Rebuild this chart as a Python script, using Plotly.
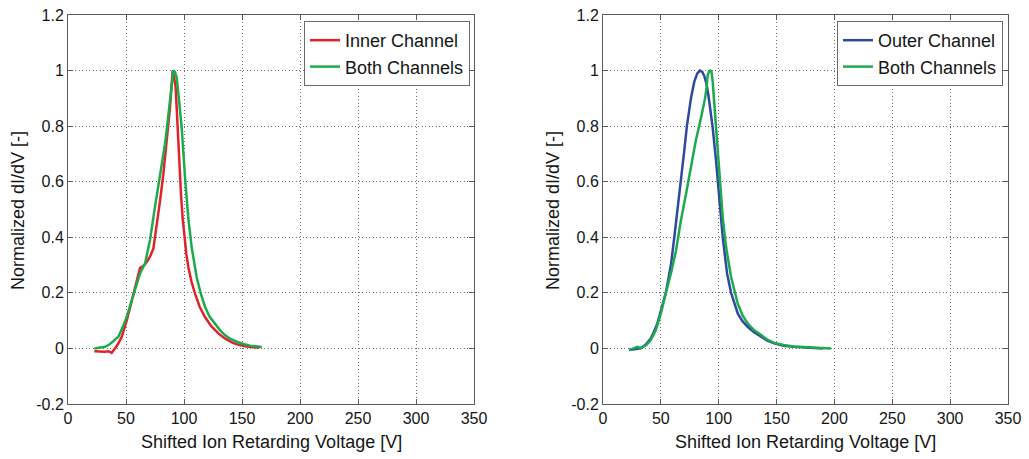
import plotly.graph_objects as go

# ---- Left panel: inner channel vs both channels ----
inner_v = [22.7, 27, 31.9, 35, 37.6, 40.5, 43, 46.3, 50.6, 54.9, 59.2, 62.1, 64, 65.8, 68,
           70.7, 73.6, 76.4, 79.3, 82.2, 85, 87.9, 89.2, 90.2, 91.5, 92.8, 94, 95.1, 96.3,
           97.4, 98.8, 100.3, 102, 103.7, 106.5, 109.5, 113.5, 118.1, 123.5, 129.6, 135.3,
           142, 148, 154, 160, 165]
inner_y = [-0.01, -0.011, -0.012, -0.01, -0.016, 0.0, 0.015, 0.042, 0.10, 0.17, 0.245, 0.29,
           0.295, 0.30, 0.312, 0.33, 0.36, 0.436, 0.53, 0.627, 0.735, 0.866, 0.94, 1.0, 0.975,
           0.94, 0.84, 0.735, 0.64, 0.556, 0.47, 0.40, 0.34, 0.293, 0.24, 0.197, 0.15, 0.113,
           0.08, 0.054, 0.036, 0.02, 0.012, 0.007, 0.004, 0.002]

both_l_v = [22.7, 27, 31.9, 36, 40, 43.4, 47, 50.6, 54, 57.8, 62.1, 66.4, 70.7, 75, 79.3,
            83.6, 86, 87.9, 89.5, 90.8, 92.2, 93.7, 95.8, 98, 100.9, 103.7, 106.6, 110.9,
            114.5, 118.1, 122, 126.7, 131, 135.3, 140, 145, 151, 157, 162, 167]
both_l_y = [0.0, 0.002, 0.006, 0.015, 0.028, 0.042, 0.075, 0.113, 0.16, 0.21, 0.27, 0.305,
            0.39, 0.51, 0.615, 0.735, 0.82, 0.90, 0.96, 1.0, 0.995, 0.975, 0.89, 0.795, 0.615,
            0.47, 0.364, 0.257, 0.197, 0.15, 0.115, 0.09, 0.066, 0.048, 0.034, 0.025, 0.016,
            0.01, 0.007, 0.005]

# ---- Right panel: outer channel vs both channels ----
outer_v = [22.5, 27, 32.7, 37, 41.3, 44, 47, 49, 51.4, 54.3, 56.5, 58.7, 61.6, 64.5, 67.3,
           70.2, 72.5, 74.2, 76, 78.9, 81.5, 83.8, 85.8, 87.6, 89.3, 91, 92.9, 94.8, 97.7,
           100.6, 103.5, 107.2, 110.7, 116.5, 120.5, 125, 130.5, 136.7, 142, 148, 156, 165,
           177, 190]
outer_y = [-0.006, -0.003, 0.0, 0.014, 0.036, 0.06, 0.09, 0.12, 0.16, 0.2, 0.25, 0.30, 0.40,
           0.50, 0.60, 0.71, 0.80, 0.855, 0.90, 0.96, 0.99, 1.0, 0.995, 0.98, 0.955, 0.914,
           0.86, 0.795, 0.675, 0.54, 0.40, 0.27, 0.20, 0.125, 0.098, 0.078, 0.058, 0.042,
           0.028, 0.018, 0.01, 0.006, 0.002, 0.0]

both_r_v = [22.5, 26, 29.8, 32, 34, 37.5, 41.3, 45.7, 50, 54.3, 58.7, 63, 67.3, 71.7, 76,
            80.3, 84.7, 88.2, 89.5, 90.5, 91.6, 92.8, 93.8, 94.8, 96.2, 97.7, 100.6, 103.5,
            106.4, 110.7, 116.5, 120.5, 125, 130.5, 136.7, 142, 148, 156, 165, 175, 186, 197]
both_r_y = [-0.006, 0.0, 0.006, 0.002, 0.004, 0.012, 0.03, 0.066, 0.125, 0.2, 0.27, 0.35,
            0.46, 0.555, 0.65, 0.75, 0.83, 0.90, 0.94, 0.985, 0.995, 1.0, 0.995, 0.96, 0.88,
            0.795, 0.615, 0.47, 0.364, 0.257, 0.16, 0.12, 0.09, 0.066, 0.048, 0.032, 0.02,
            0.012, 0.007, 0.004, 0.002, 0.0]

x_ticks = [0, 50, 100, 150, 200, 250, 300, 350]
y_ticks = [-0.2, 0, 0.2, 0.4, 0.6, 0.8, 1, 1.2]
y_tick_text = ["-0.2", "0", "0.2", "0.4", "0.6", "0.8", "1", "1.2"]

RED = "#e0222b"
GREEN = "#1daa4c"
BLUE = "#2f48a0"
FONT = "Liberation Sans, Arial, sans-serif"
TXT = "#151515"

fig = go.Figure()
fig.add_trace(go.Scatter(x=inner_v, y=inner_y, mode="lines", name="Inner Channel",
                         line=dict(color=RED, width=2.5), xaxis="x", yaxis="y", legend="legend"))
fig.add_trace(go.Scatter(x=both_l_v, y=both_l_y, mode="lines", name="Both Channels",
                         line=dict(color=GREEN, width=2.5), xaxis="x", yaxis="y", legend="legend"))
fig.add_trace(go.Scatter(x=outer_v, y=outer_y, mode="lines", name="Outer Channel",
                         line=dict(color=BLUE, width=2.5), xaxis="x2", yaxis="y2", legend="legend2"))
fig.add_trace(go.Scatter(x=both_r_v, y=both_r_y, mode="lines", name="Both Channels",
                         line=dict(color=GREEN, width=2.5), xaxis="x2", yaxis="y2", legend="legend2"))

W, H = 1029, 459
left_dom = [68 / W, 474 / W]
right_dom = [603 / W, 1008 / W]
y_dom = [(H - 404) / H, (H - 15) / H]

axis_common = dict(
    showline=True, linecolor="#5a5a5a", linewidth=1, mirror="ticks",
    ticks="inside", ticklen=5, tickcolor="#5a5a5a",
    showgrid=True, gridcolor="#6e6e6e", griddash="1px,2.5px", gridwidth=1,
    zeroline=False, automargin=False,
    tickfont=dict(family=FONT, size=16, color=TXT),
)

xa = dict(axis_common, range=[0, 350], tickvals=x_ticks)
ya = dict(axis_common, range=[-0.2, 1.2], tickvals=y_ticks, ticktext=y_tick_text, domain=y_dom)

legend_common = dict(
    bgcolor="white", bordercolor="#6a6a6a", borderwidth=1,
    font=dict(family=FONT, size=18, color=TXT),
    xanchor="right", yanchor="top", y=(H - 21) / H, tracegroupgap=0,
    itemwidth=30,
)

fig.update_layout(
    width=W, height=H,
    margin=dict(l=0, r=0, t=0, b=0),
    paper_bgcolor="white", plot_bgcolor="white",
    font=dict(family=FONT, size=16, color=TXT),
    xaxis=dict(xa, domain=left_dom, anchor="y"),
    yaxis=dict(ya, anchor="x"),
    xaxis2=dict(xa, domain=right_dom, anchor="y2"),
    yaxis2=dict(ya, anchor="x2"),
    legend=dict(legend_common, x=470 / W),
    legend2=dict(legend_common, x=1003 / W),
    showlegend=True,
)

# axis titles for both panels
for cx, ytx in [((68 + 474) / 2 / W, 18 / W), ((603 + 1008) / 2 / W, 553 / W)]:
    fig.add_annotation(text="Shifted Ion Retarding Voltage [V]", x=cx, y=(H - 442) / H,
                       xref="paper", yref="paper", showarrow=False,
                       font=dict(family=FONT, size=18, color=TXT),
                       xanchor="center", yanchor="middle")
    fig.add_annotation(text="Normalized dI/dV [-]", x=ytx, y=(H - 211) / H,
                       xref="paper", yref="paper", showarrow=False, textangle=-90,
                       font=dict(family=FONT, size=18, color=TXT),
                       xanchor="center", yanchor="middle")

fig.write_html("out.html")
